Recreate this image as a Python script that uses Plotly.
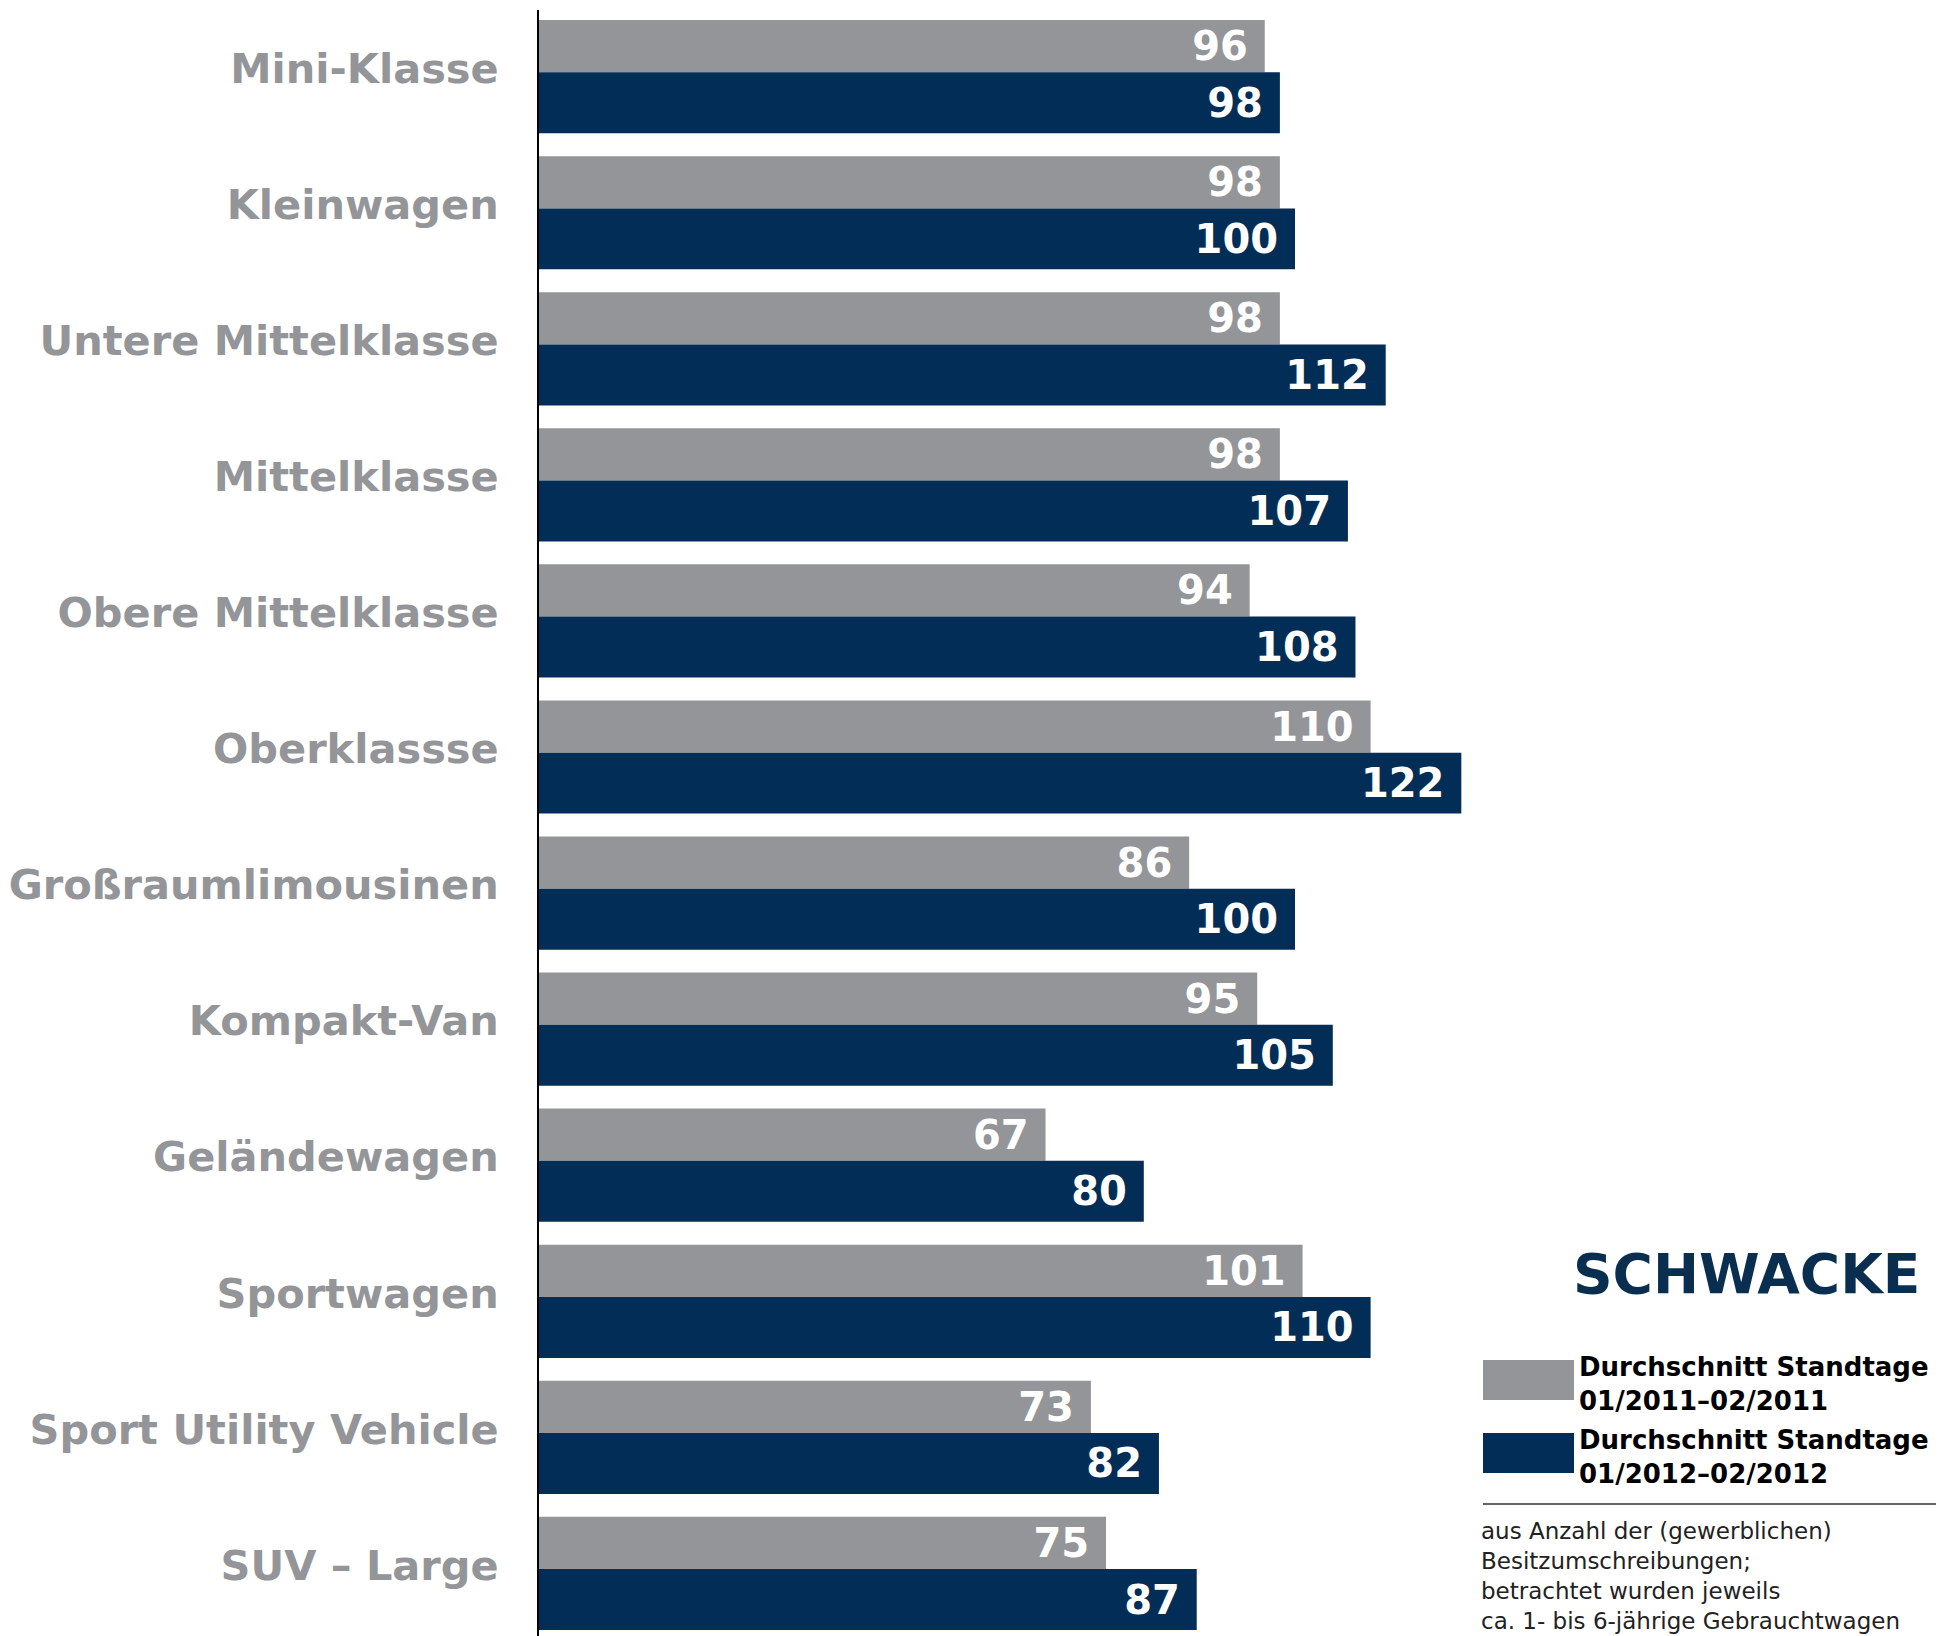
import plotly.graph_objects as go

categories = ["Mini-Klasse", "Kleinwagen", "Untere Mittelklasse", "Mittelklasse",
              "Obere Mittelklasse", "Oberklassse", "Großraumlimousinen", "Kompakt-Van",
              "Geländewagen", "Sportwagen", "Sport Utility Vehicle", "SUV – Large"]
standtage_2011 = [96, 98, 98, 98, 94, 110, 86, 95, 67, 101, 73, 75]
standtage_2012 = [98, 100, 112, 107, 108, 122, 100, 105, 80, 110, 82, 87]
series_names = ["Durchschnitt Standtage<br>01/2011–02/2011",
                "Durchschnitt Standtage<br>01/2012–02/2012"]
footnote = ("aus Anzahl der (gewerblichen)<br>Besitzumschreibungen;<br>"
            "betrachtet wurden jeweils<br>ca. 1- bis 6-jährige Gebrauchtwagen")

GRAY = "#939598"
NAVY = "#022d56"
FONT = "DejaVu Sans"

PAGE_OFF = 8  # browser body margin
W, H = 1952 - PAGE_OFF, 1636 - PAGE_OFF
L, R, T, B = 539 - PAGE_OFF, 0, 10 - PAGE_OFF, 0
PW, PH = W - L - R, H - T - B
PX_PER_UNIT = 7.56

def xp(px):  # px in page coordinates
    return (px - PAGE_OFF - L) / PW

def yp(py):
    return 1 - (py - PAGE_OFF - T) / PH

idx = list(range(len(categories)))

fig = go.Figure()
fig.add_trace(go.Bar(
    y=idx, x=standtage_2011, orientation="h", name=series_names[0],
    marker=dict(color=GRAY, line=dict(width=0)),
    width=0.384, offset=-0.4,
    text=[f"{v}\u00a0" for v in standtage_2011], textposition="inside",
    insidetextanchor="end", constraintext="none", textangle=0,
    insidetextfont=dict(family=FONT, size=40, color="white", weight="bold"),
    showlegend=False, hoverinfo="skip",
))
fig.add_trace(go.Bar(
    y=idx, x=standtage_2012, orientation="h", name=series_names[1],
    marker=dict(color=NAVY, line=dict(width=0)),
    width=0.448, offset=-0.016,
    text=[f"{v}\u00a0" for v in standtage_2012], textposition="inside",
    insidetextanchor="end", constraintext="none", textangle=0,
    insidetextfont=dict(family=FONT, size=40, color="white", weight="bold"),
    showlegend=False, hoverinfo="skip",
))

fig.update_layout(
    width=W, height=H, barmode="overlay",
    margin=dict(l=L, r=R, t=T, b=B, pad=0, autoexpand=False),
    paper_bgcolor="white", plot_bgcolor="white",
    xaxis=dict(range=[0, PW / PX_PER_UNIT], visible=False, fixedrange=True,
               automargin=False),
    yaxis=dict(
        range=[11.476, -0.474], tickmode="array", automargin=False,
        tickvals=[i - 0.045 for i in idx], ticktext=categories,
        showline=True, linecolor="black", linewidth=2, showgrid=False, zeroline=False,
        ticks="", ticklabelstandoff=30,
        tickfont=dict(family=FONT, size=41.5, color=GRAY, weight="bold"),
    ),
    showlegend=False,
)

# Logo
fig.add_annotation(
    x=xp(1922), y=yp(1274), xref="paper", yref="paper", xanchor="right", yanchor="middle",
    text="SCHWACKE", showarrow=False,
    font=dict(family=FONT, size=55, color="#0a2e4f", weight="bold"),
)

# Legend swatches and labels
legend_rows = [(1360, 1400, GRAY), (1433, 1473, NAVY)]
for (y0, y1, col), name in zip(legend_rows, series_names):
    fig.add_shape(type="rect", xref="paper", yref="paper",
                  x0=xp(1483), x1=xp(1574), y0=yp(y1), y1=yp(y0),
                  fillcolor=col, line=dict(width=0))
    fig.add_annotation(
        x=xp(1577), y=yp((y0 + y1) / 2 + 4), xref="paper", yref="paper",
        xanchor="left", yanchor="middle", align="left", text=name, showarrow=False,
        font=dict(family=FONT, size=26, color="black", weight="bold"),
    )

fig.add_shape(type="line", xref="paper", yref="paper",
              x0=xp(1483), x1=xp(1936), y0=yp(1504), y1=yp(1504),
              line=dict(color="#333333", width=1.5))

fig.add_annotation(
    x=xp(1479), y=yp(1516), xref="paper", yref="paper",
    xanchor="left", yanchor="top", align="left", text=footnote, showarrow=False,
    font=dict(family=FONT, size=23, color="#222222"),
)

fig.write_html("out.html")
